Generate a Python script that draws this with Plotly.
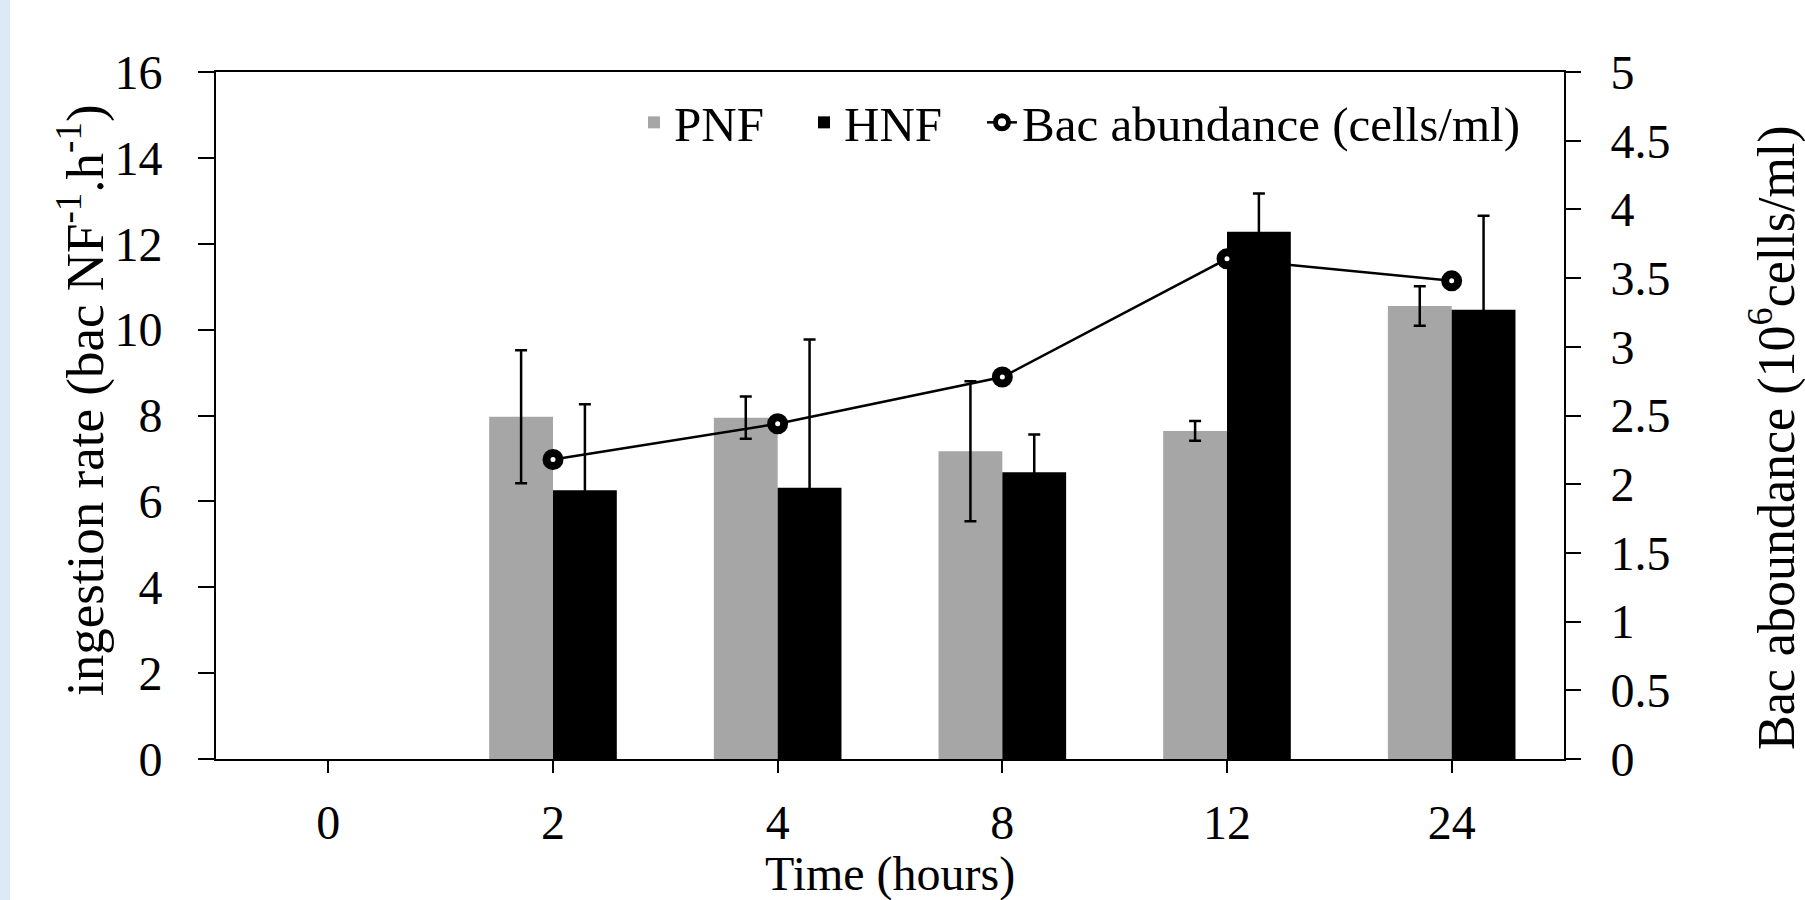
import plotly.graph_objects as go

# ---- data ----
time_labels = ["0", "2", "4", "8", "12", "24"]
pnf_rate = [None, 7.97, 7.95, 7.17, 7.64, 10.55]
pnf_err = [None, 1.55, 0.49, 1.63, 0.23, 0.46]
hnf_rate = [None, 6.26, 6.32, 6.68, 12.28, 10.46]
hnf_err = [None, 2.0, 3.45, 0.88, 0.89, 2.19]
bac_times = ["2", "4", "8", "12", "24"]
bac_abundance = [2.18, 2.44, 2.78, 3.64, 3.48]
left_ticks = [0, 2, 4, 6, 8, 10, 12, 14, 16]
right_ticks = [0, 0.5, 1, 1.5, 2, 2.5, 3, 3.5, 4, 4.5, 5]
right_tick_text = ["0", "0.5", "1", "1.5", "2", "2.5", "3", "3.5", "4", "4.5", "5"]

FONT = "Liberation Serif"
W, H = 1805, 900
ML, MR, MT, MB = 216, 241, 72, 141
PW = W - ML - MR
PH = H - MT - MB

fig = go.Figure()
fig.add_trace(go.Bar(
    x=time_labels, y=pnf_rate, name="PNF", legend="legend",
    marker=dict(color="#a6a6a6", line=dict(width=0)),
    error_y=dict(type="data", array=pnf_err, visible=True, color="black",
                 thickness=2.5, width=6),
))
fig.add_trace(go.Bar(
    x=time_labels, y=hnf_rate, name="HNF", legend="legend2",
    marker=dict(color="black", line=dict(width=0)),
    error_y=dict(type="data", array=hnf_err, visible=True, color="black",
                 thickness=2.5, width=6),
))
fig.add_trace(go.Scatter(
    x=bac_times, y=bac_abundance, name="Bac abundance (cells/ml)", legend="legend3",
    yaxis="y2", mode="lines+markers",
    line=dict(color="black", width=2.5),
    marker=dict(symbol="circle", size=13, color="white",
                line=dict(color="black", width=8)),
))

px2paper_x = lambda px: (px - ML) / PW
px2paper_y = lambda py: (H - MB - py) / PH


def legend_at(px):
    return dict(orientation="h", x=px2paper_x(px), xanchor="left",
                y=px2paper_y(84), yanchor="top",
                font=dict(family=FONT, size=49, color="black"),
                bgcolor="rgba(0,0,0,0)", borderwidth=0, itemwidth=30)


fig.update_layout(
    width=W, height=H,
    margin=dict(l=ML, r=MR, t=MT, b=MB, autoexpand=False),
    paper_bgcolor="white", plot_bgcolor="white",
    font=dict(family=FONT, color="black", size=48),
    barmode="group", bargap=0.432, bargroupgap=0,
    showlegend=True,
    legend=legend_at(634),
    legend2=legend_at(804),
    legend3=legend_at(982),
    xaxis=dict(type="category", categoryorder="array", categoryarray=time_labels,
               range=[-0.5, 5.5], showline=True, linecolor="black", linewidth=2,
               mirror=True, ticks="outside", ticklen=12, tickwidth=1.5,
               tickcolor="black", showgrid=False, zeroline=False,
               tickfont=dict(family=FONT, size=48), ticklabelstandoff=8),
    yaxis=dict(range=[0, 16], tickvals=left_ticks, showline=True,
               linecolor="black", linewidth=2, ticks="outside", ticklen=16,
               tickwidth=1.5, tickcolor="black", showgrid=False, zeroline=False,
               tickfont=dict(family=FONT, size=48), ticklabelstandoff=26),
    yaxis2=dict(range=[0, 5], tickvals=right_ticks, ticktext=right_tick_text,
                overlaying="y", side="right", showline=True, linecolor="black",
                linewidth=2, ticks="outside", ticklen=15, tickwidth=1.5,
                tickcolor="black", showgrid=False, zeroline=False,
                tickfont=dict(family=FONT, size=48), ticklabelstandoff=20),
)

# axis titles
fig.add_annotation(text="Time (hours)", xref="paper", yref="paper",
                   x=0.5, y=px2paper_y(874), xanchor="center", yanchor="middle",
                   showarrow=False, borderpad=0, font=dict(family=FONT, size=48))
fig.add_annotation(text="ingestion rate (bac NF<sup>-1</sup>.h<sup>-1</sup>)",
                   xref="paper", yref="paper", x=px2paper_x(81), y=px2paper_y(400),
                   xanchor="center", yanchor="middle", textangle=-90,
                   showarrow=False, font=dict(family=FONT, size=53))
fig.add_annotation(text="Bac aboundance (10<sup>6</sup>cells/ml)",
                   xref="paper", yref="paper", x=px2paper_x(1773), y=px2paper_y(438),
                   xanchor="center", yanchor="middle", textangle=-90,
                   showarrow=False, font=dict(family=FONT, size=52))

# light blue strip at the left edge of the page
fig.add_shape(type="rect", xref="paper", yref="paper",
              x0=px2paper_x(0), x1=px2paper_x(10), y0=px2paper_y(H), y1=px2paper_y(0),
              fillcolor="#dde9f5", line=dict(width=0), layer="below")

fig.write_html("out.html", config={"displayModeBar": False},
               post_script="document.body.style.margin='0px';"
                           "document.body.style.overflow='hidden';")
